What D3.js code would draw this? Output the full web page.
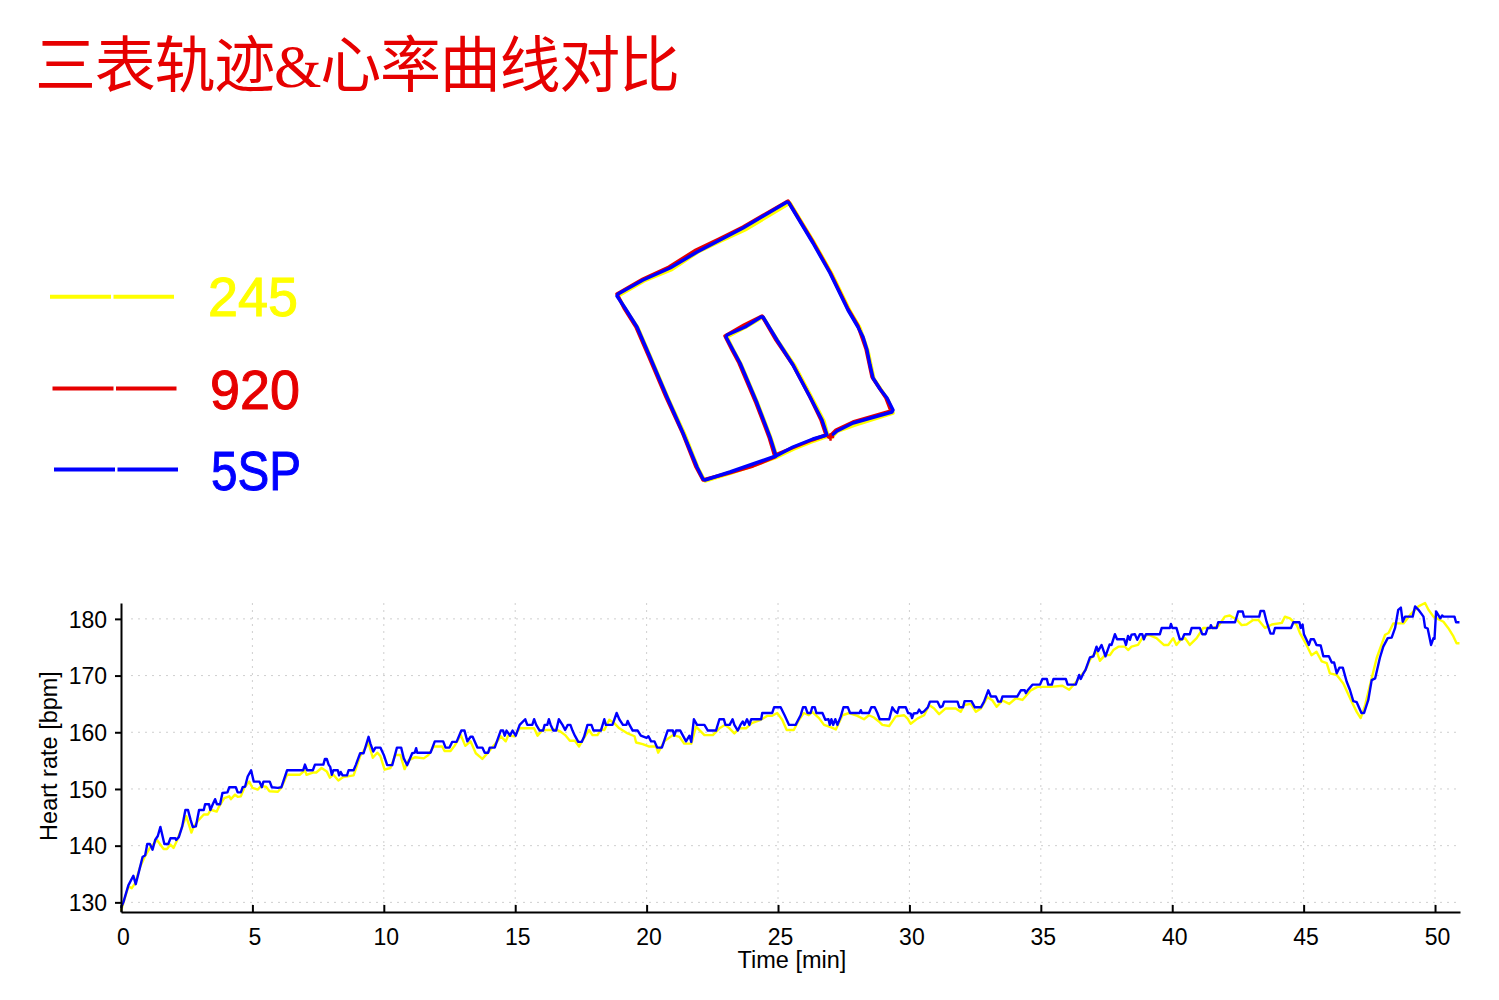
<!DOCTYPE html>
<html lang="zh">
<head>
  <meta charset="UTF-8">
  <title>三表轨迹&amp;心率曲线对比</title>
  <script src="https://d3js.org/d3.v7.min.js"></script>
  <style>
    body { margin: 0; background: #fff; overflow: hidden; }
    svg { display: block; }
    text { font-family: "Liberation Sans", sans-serif; fill: #000; }
    .title { font-family: "Liberation Serif", "Noto Sans CJK SC", serif; font-size: 61px; fill: #e60000; }
    .legend-label { font-size: 56px; stroke-width: 1; }
    .tick text { font-size: 23px; font-family: "Liberation Sans", sans-serif; }
    .axis-label { font-size: 23.5px; font-family: "Liberation Sans", sans-serif; }
    .grid line { stroke: #cfcfcf; stroke-width: 1; stroke-dasharray: 2 5; }
  </style>
</head>
<body>
<svg id="chart" width="1499" height="1000"></svg>
<script>
const titleText = "三表轨迹&心率曲线对比";
const seriesNames = ["245", "920", "5SP"];
const seriesColors = ["#ffff00", "#e60000", "#0000ff"];

const timeTicks = [0, 5, 10, 15, 20, 25, 30, 35, 40, 45, 50];
const hrTicks = [130, 140, 150, 160, 170, 180];

// [minutes, bpm]
const hr245 = [[0,128.5],[0.28,132.8],[0.41,132.5],[0.54,133.4],[0.73,136.3],[0.92,138.2],[1.1,139.6],[1.37,141],[1.62,139.4],[1.75,139.4],[1.88,140.2],[2,139.6],[2.13,140.9],[2.33,143.4],[2.48,145.2],[2.68,142.3],[2.77,143.4],[2.97,144.6],[3.15,145.5],[3.31,145.5],[3.41,146.3],[3.51,146.2],[3.64,146],[3.73,146.9],[3.93,148.4],[4.12,148.7],[4.18,148.2],[4.34,149],[4.44,148.6],[4.56,148.7],[4.69,150.2],[4.88,151.3],[5,150.2],[5.2,149.9],[5.33,150.5],[5.52,150.4],[5.65,149.6],[5.97,149.5],[6.1,150.2],[6.32,152.5],[6.8,152.5],[7,153.3],[7.06,152.5],[7.3,152.9],[7.43,152.9],[7.63,153.7],[7.83,153.1],[7.95,152],[8.08,152.5],[8.27,151.5],[8.46,152.1],[8.85,152.4],[9.1,155.8],[9.42,158.1],[9.58,155.5],[9.75,156.4],[9.87,155.8],[10.03,153.4],[10.25,153.7],[10.44,156],[10.63,156],[10.79,153.5],[10.95,155.1],[11.2,155.6],[11.52,155.4],[11.7,156],[11.9,157.5],[12.22,157.5],[12.31,156.7],[12.54,156.7],[12.69,157.6],[12.93,159.5],[13.1,157.6],[13.3,158.4],[13.5,156.3],[13.75,155.3],[14,156.6],[14.32,158.4],[14.45,159.3],[14.64,158.4],[14.73,159.4],[14.96,159.3],[15.17,160.7],[15.46,160.7],[15.72,160.7],[15.85,159.4],[16.04,160.4],[16.35,160.4],[16.54,160.5],[16.73,160.1],[16.9,159.5],[17.08,158.5],[17.27,158.5],[17.43,157.5],[17.62,159],[17.81,160.4],[17.94,159.5],[18.13,159.5],[18.26,160.5],[18.39,160.4],[18.58,162.2],[18.77,161.6],[18.96,160.7],[19.28,159.8],[19.54,159.3],[19.6,158.2],[19.85,157.9],[20.08,157.5],[20.36,157.5],[20.44,156.4],[20.67,158.4],[21,159.5],[21.25,159.2],[21.43,158],[21.7,158],[21.88,161],[22.2,159.5],[22.52,159.5],[22.77,160.7],[22.98,161.3],[23.15,160.7],[23.34,159.8],[23.53,160.7],[23.78,160.7],[24,161.6],[24.34,162.2],[24.6,162.9],[24.78,162.9],[24.97,163.4],[25.16,162.2],[25.33,160.4],[25.6,160.4],[25.8,162.2],[25.98,163.4],[26.17,163],[26.3,163.6],[26.56,162.5],[26.75,161.3],[27,160.9],[27.2,160.5],[27.45,163],[27.71,163.4],[28.02,162.9],[28.27,162.3],[28.46,163],[28.65,162.6],[28.84,161.9],[28.97,161.3],[29.23,161.1],[29.48,162.8],[29.8,163],[29.93,162.4],[30.05,161.5],[30.3,162.4],[30.56,163],[30.75,164.8],[30.94,164.2],[31.13,163.2],[31.38,164.2],[31.76,164.2],[31.95,163.6],[32.08,164.8],[32.34,165],[32.53,163.6],[32.72,164.2],[32.97,166.2],[33.16,165.6],[33.32,164.5],[33.54,165.6],[33.8,165],[34.05,166],[34.3,165.7],[34.62,167.4],[34.87,168],[35.38,168],[35.82,168.2],[36.08,167.5],[36.33,168.8],[36.7,171],[36.87,172.8],[37.12,174.3],[37.25,172.6],[37.44,173.6],[37.63,173.6],[37.76,174.5],[37.95,175.1],[38.2,175.1],[38.32,174.5],[38.45,175.1],[38.7,175.4],[38.9,176.9],[39.09,177.2],[39.4,176.6],[39.68,175.4],[39.85,175.4],[40.04,176.6],[40.16,175.4],[40.32,176.3],[40.49,176.6],[40.67,175.4],[40.93,176.6],[41.18,178.4],[41.56,178.4],[41.75,178.7],[42,180.4],[42.19,180.6],[42.45,179.9],[42.64,178.9],[42.83,179],[43.08,179.8],[43.28,179.8],[43.53,178.4],[43.79,179],[44.17,179.3],[44.29,180.4],[44.48,180.1],[44.74,178.9],[44.86,177.5],[45.11,175.4],[45.3,173.6],[45.49,174.2],[45.69,172.5],[45.88,172.2],[46,170.4],[46.26,170.1],[46.51,168.6],[46.83,165.4],[47.02,163.6],[47.17,162.5],[47.34,164.8],[47.59,169.5],[47.78,173.1],[48.1,177.2],[48.23,177.5],[48.41,179.2],[48.6,179.2],[48.8,179.2],[49.05,180.7],[49.37,182.2],[49.62,182.8],[49.75,181.6],[49.94,180.4],[50.32,179.5],[50.5,178.4],[50.7,176.9],[50.82,175.7],[50.93,175.7]];

const hr5sp = [[0,129],[0.09,130],[0.28,133],[0.47,134.7],[0.56,133.2],[0.73,136.3],[0.82,138],[0.92,138.3],[1,140.3],[1.1,140.3],[1.2,139.3],[1.3,141],[1.4,141.7],[1.5,143.3],[1.65,140.3],[1.8,140.3],[1.88,141.3],[2.07,141.3],[2.1,141],[2.2,141.5],[2.33,143.4],[2.45,146.3],[2.55,146.3],[2.65,144.5],[2.73,143.3],[2.85,143.4],[2.97,146.3],[3.15,146.3],[3.2,147.3],[3.35,147.3],[3.4,146.3],[3.5,147.4],[3.58,148.2],[3.65,147.3],[3.77,147.3],[3.86,149.3],[4.05,149.4],[4.12,150.3],[4.37,150.3],[4.44,149.4],[4.56,149.4],[4.63,150.3],[4.72,150.4],[4.82,152.2],[4.95,153.3],[5.05,151.3],[5.27,151.3],[5.36,150.3],[5.42,151.3],[5.66,151.3],[5.74,150.3],[5.97,150.2],[6.1,150.3],[6.32,153.3],[6.93,153.3],[7,154.3],[7.08,153.3],[7.3,153.3],[7.38,154.3],[7.7,154.3],[7.76,155.3],[7.83,155.3],[7.9,154.3],[7.96,153.9],[8.02,152.5],[8.08,153.3],[8.25,153.3],[8.3,152.4],[8.36,153],[8.43,152.4],[8.6,152.4],[8.66,153.3],[8.85,153.3],[8.94,154.3],[9.1,156.3],[9.23,156.3],[9.42,159.2],[9.49,158],[9.6,156.6],[9.68,157.3],[9.87,157.3],[10,156],[10.13,154.2],[10.32,154.2],[10.5,157.3],[10.66,157.3],[10.76,155.4],[10.89,154.2],[11.08,156.3],[11.18,156.4],[11.23,157.2],[11.27,156.4],[11.78,156.4],[11.94,158.4],[12.26,158.4],[12.35,157.3],[12.5,157.3],[12.6,158.3],[12.77,158.3],[12.95,160.3],[13.07,160.3],[13.18,158.4],[13.3,159.2],[13.38,159.2],[13.56,157.3],[13.75,157.3],[13.84,156.4],[13.97,156.4],[14.03,157.3],[14.22,157.3],[14.45,160.3],[14.54,160.3],[14.6,159.4],[14.67,160.3],[14.8,159.4],[14.9,160.3],[15.02,159.4],[15.17,161.3],[15.38,162.3],[15.46,161.3],[15.65,161.3],[15.72,162.3],[15.8,161.3],[15.93,160.3],[16.06,160.3],[16.12,161.3],[16.22,161.3],[16.28,162.3],[16.35,161.3],[16.45,160.3],[16.56,160.3],[16.66,162.3],[16.8,161.3],[16.9,160.4],[17,161.3],[17.1,161.3],[17.18,160.3],[17.27,159.4],[17.4,158.3],[17.53,158.3],[17.62,159.2],[17.75,161.3],[17.9,161.3],[17.98,160.3],[18.26,160.3],[18.39,162.3],[18.45,161.3],[18.7,161.3],[18.86,163.4],[18.96,162.3],[19.1,161.3],[19.23,161.3],[19.28,162],[19.35,161.3],[19.47,160.3],[19.66,160.3],[19.78,159.4],[20,159],[20.07,159.3],[20.17,158.4],[20.3,158.4],[20.4,157.3],[20.58,157.3],[20.8,160.3],[21,160.3],[21.05,159.4],[21.12,160.3],[21.28,160.3],[21.5,158.4],[21.63,159.4],[21.7,158.3],[21.8,162.3],[21.92,161.3],[22.2,161.3],[22.33,160.3],[22.64,160.3],[22.77,162.3],[22.94,162.3],[23,161.3],[23.16,161.3],[23.27,162.3],[23.34,161.3],[23.47,160.3],[23.57,161.3],[23.66,161.9],[23.72,161.3],[23.82,162.3],[23.91,161.3],[23.98,162.3],[24.36,162.3],[24.4,163.4],[24.78,163.4],[24.85,164.4],[25.1,164.4],[25.25,163],[25.42,161.3],[25.67,161.3],[25.86,163],[25.95,164.4],[26.05,164.4],[26.12,163.4],[26.24,163.4],[26.3,164.4],[26.4,164.4],[26.46,163.4],[26.69,163.4],[26.8,162.2],[26.92,162.3],[26.97,161.3],[27.03,162.3],[27.1,161.3],[27.18,162.3],[27.26,161.3],[27.39,162.8],[27.49,164.4],[27.66,164.4],[27.74,163.4],[28.1,163.4],[28.15,163.9],[28.19,163.4],[28.46,163.4],[28.55,164.4],[28.68,164.4],[28.78,163.4],[28.87,162.3],[29.23,162.3],[29.35,164.4],[29.45,163.7],[29.54,163.4],[29.6,164.4],[29.86,164.4],[29.95,163.4],[30.05,163.3],[30.1,162.5],[30.16,163.3],[30.3,163.4],[30.37,164],[30.46,163.4],[30.56,163.7],[30.7,164.4],[30.78,165.4],[31.07,165.4],[31.17,164.4],[31.26,164.6],[31.32,165.4],[31.83,165.4],[31.9,164.4],[32.04,164.4],[32.1,165.5],[32.36,165.5],[32.49,164.4],[32.72,164.4],[32.84,165.4],[33,167.4],[33.1,166.3],[33.29,166.3],[33.38,165.4],[33.48,165.4],[33.54,166.3],[34.1,166.3],[34.24,167.4],[34.39,167.4],[34.43,166.9],[34.5,167.4],[34.68,168.4],[34.97,168.4],[35.06,169.4],[35.23,169.4],[35.28,168.4],[35.42,168.4],[35.48,169.4],[35.95,169.4],[36.02,168.4],[36.33,168.4],[36.46,170.1],[36.52,169.4],[36.62,170.4],[36.7,171],[36.87,173.2],[37,173.4],[37.12,175.1],[37.18,174.3],[37.31,175.4],[37.46,173.4],[37.62,175.5],[37.69,175.4],[37.82,177.3],[37.9,176.4],[38.17,176.4],[38.24,175.4],[38.32,177],[38.39,176.3],[38.45,177.2],[38.58,177.3],[38.67,176.3],[38.77,177.3],[38.86,177.3],[38.92,176.4],[39,177.3],[39.53,177.3],[39.6,178.4],[39.91,178.4],[39.95,179.1],[40,178.4],[40.16,178.4],[40.29,176.4],[40.38,176.4],[40.46,177.3],[40.67,177.3],[40.74,178.4],[41.05,178.4],[41.14,177.3],[41.27,177.3],[41.35,178.4],[41.44,178.4],[41.47,178.9],[41.52,178.4],[41.69,178.4],[41.75,179.4],[42.39,179.4],[42.51,181.3],[42.68,181.3],[42.73,180.4],[43.31,180.4],[43.36,181.4],[43.49,181.4],[43.59,179.5],[43.74,177.4],[43.85,177.4],[43.91,178.4],[44.52,178.4],[44.61,179.4],[44.84,179.4],[44.89,178.4],[44.96,179],[45.01,177.3],[45.11,176.3],[45.2,175.4],[45.27,176.4],[45.39,176.4],[45.49,175.4],[45.65,175.3],[45.75,173.4],[45.96,173.4],[46.07,172.3],[46.16,172.3],[46.26,170.4],[46.36,171.4],[46.49,171.4],[46.64,168.9],[46.76,167.5],[46.89,165.5],[47.02,165.3],[47.2,163.4],[47.3,163.4],[47.46,165.7],[47.59,169.2],[47.72,169.5],[47.9,173.1],[48.03,175.1],[48.2,176.6],[48.35,176.7],[48.48,178.4],[48.6,181.6],[48.7,182],[48.77,179.5],[48.86,180.4],[49.15,180.4],[49.24,182.2],[49.37,181.6],[49.56,180.4],[49.62,178.5],[49.72,178.3],[49.85,175.4],[49.94,176.6],[49.98,176.5],[50.04,181.3],[50.2,180.1],[50.27,180.6],[50.32,180.4],[50.74,180.4],[50.8,179.4],[50.93,179.4]];

// track positions, local map units (one unit ~ one pixel of the map area)
const track245 = [[231,248],[238,241],[255,235],[293,223],[288,210],[274,189],[268,161],[260,138],[250,121],[232,84],[215,54],[190,13],[145,40],[121,51],[98,62],[71,80],[44,91],[18,106],[26,120],[38,138],[51,168],[68,208],[85,245],[98,278],[105,291],[131,283],[155,275],[177,267],[171,248],[158,214],[141,174],[134,161],[127,147],[146,137],[163,127],[178,151],[195,176],[212,208],[224,231],[228,246],[214,251],[194,259],[177,267]];
const track920 = [[229,247],[236,240],[253,232],[291,221],[286,208],[272,187],[266,159],[258,136],[248,119],[230,82],[213,52],[188,11],[143,37],[119,49],[96,60],[69,77],[43,89],[17,104],[24,118],[36,137],[49,167],[66,207],[83,244],[96,277],[103,290],[129,283],[153,276],[175,267],[169,247],[156,213],[139,173],[132,160],[125,146],[144,135],[162,126],[176,150],[193,175],[210,207],[221,230],[226,245],[212,250],[192,258],[175,265]];
const track5sp = [[230,247],[237,241],[253,233],[292,222],[293,220],[287,208],[280,199],[273,188],[270,175],[267,160],[263,147],[258,137],[248,120],[230,83],[213,53],[189,13],[187,12],[143,38],[120,50],[97,62],[70,78],[43,90],[18,104],[17,106],[25,118],[37,137],[50,167],[67,207],[83,243],[97,277],[103,289],[105,290],[130,282],[153,274],[176,266],[170,247],[157,213],[140,173],[133,160],[126,147],[127,145],[145,137],[161,127],[163,127],[177,150],[193,175],[210,207],[222,230],[227,245],[213,249],[193,257],[176,266]];
const startPoint = [230.5, 247];

const svg = d3.select("#chart");

svg.append("text").attr("class", "title")
  .attr("x", 35).attr("y", 87)
  .attr("textLength", 645).attr("lengthAdjust", "spacing")
  .text(titleText);

// legend
const legendY = [296.7, 388.5, 469.5];
const legendX = [50, 52.5, 54];
const labelX = [208, 210, 211];
const labelY = [316, 409, 490];
seriesNames.forEach((name, i) => {
  svg.append("line")
    .attr("x1", legendX[i]).attr("x2", legendX[i] + 124)
    .attr("y1", legendY[i]).attr("y2", legendY[i])
    .attr("stroke", seriesColors[i]).attr("stroke-width", 4)
    .attr("stroke-dasharray", "61 2.5");
  svg.append("text").attr("class", "legend-label")
    .attr("x", labelX[i]).attr("y", labelY[i])
    .attr("textLength", 90).attr("lengthAdjust", "spacingAndGlyphs")
    .style("fill", seriesColors[i])
    .style("stroke", seriesColors[i])
    .text(name);
});

// map
const mapX = d3.scaleLinear().domain([0, 300]).range([600, 900]);
const mapY = d3.scaleLinear().domain([0, 300]).range([190, 490]);
const trackLine = d3.line().x(d => mapX(d[0])).y(d => mapY(d[1]));
[track245, track920, track5sp].forEach((t, i) => {
  svg.append("path").datum(t)
    .attr("d", trackLine)
    .attr("fill", "none")
    .attr("stroke", seriesColors[i])
    .attr("stroke-width", 3.5)
    .attr("stroke-linejoin", "round")
    .attr("stroke-linecap", "round");
});
svg.append("path")
  .attr("d", d3.symbol(d3.symbolCross, 30)())
  .attr("transform", `translate(${mapX(startPoint[0])},${mapY(startPoint[1])})`)
  .attr("fill", "#e60000");

// heart rate plot
const x = d3.scaleLinear().domain([0, 50.95]).range([121, 1460]);
const y = d3.scaleLinear().domain([128.3, 182.8]).range([912, 603]);

const gridH = svg.append("g").attr("class", "grid");
gridH.selectAll("line").data(hrTicks).join("line")
  .attr("x1", 131).attr("x2", 1458)
  .attr("y1", d => y(d)).attr("y2", d => y(d));
const gridV = svg.append("g").attr("class", "grid");
gridV.selectAll("line").data(timeTicks.slice(1)).join("line")
  .attr("x1", d => x(d)).attr("x2", d => x(d))
  .attr("y1", 603).attr("y2", 905);

const hrLine = d3.line().x(d => x(d[0])).y(d => y(d[1]));
[[hr245, seriesColors[0]], [hr5sp, seriesColors[2]]].forEach(([data, color]) => {
  svg.append("path").datum(data)
    .attr("d", hrLine)
    .attr("fill", "none")
    .attr("stroke", color)
    .attr("stroke-width", 2.4)
    .attr("stroke-linejoin", "round");
});

const xAxis = svg.append("g").attr("transform", "translate(0,912)")
  .call(d3.axisBottom(x).tickValues(timeTicks).tickSize(-7).tickSizeOuter(0).tickFormat(d3.format("d")));
xAxis.selectAll("text").attr("dy", null).attr("y", 33).attr("dx", 2);

const yAxis = svg.append("g").attr("transform", "translate(121,0)")
  .call(d3.axisLeft(y).tickValues(hrTicks).tickSize(6).tickSizeOuter(0).tickFormat(d3.format("d")));
yAxis.selectAll("text").attr("x", -14).attr("dy", "0.36em");

[xAxis, yAxis].forEach(a => {
  a.selectAll("path, line").attr("stroke", "#000").attr("stroke-width", 2);
});

svg.append("text").attr("class", "axis-label")
  .attr("x", 792).attr("y", 968)
  .attr("text-anchor", "middle")
  .text("Time [min]");
svg.append("text").attr("class", "axis-label")
  .attr("transform", "translate(57,756) rotate(-90)")
  .attr("text-anchor", "middle")
  .text("Heart rate [bpm]");
</script>
</body>
</html>
